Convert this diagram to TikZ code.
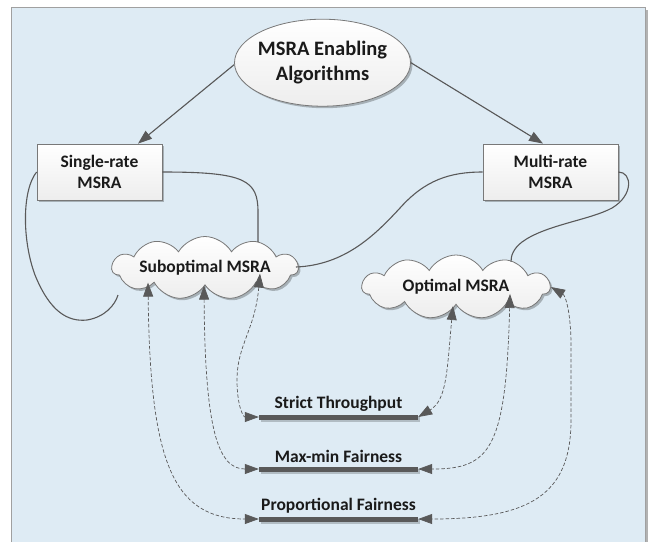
\documentclass[tikz,border=0pt]{standalone}
\usepackage{fontspec}
\setmainfont{Carlito}
\usetikzlibrary{shapes.geometric,shapes.symbols,arrows.meta,shadows}
\definecolor{bgblue}{RGB}{222,235,244}
\definecolor{linegray}{RGB}{89,89,89}
\definecolor{bordergray}{RGB}{120,120,120}
\definecolor{framegray}{RGB}{160,160,160}
\definecolor{txtcol}{RGB}{26,26,26}

\begin{document}
\begin{tikzpicture}[x=1pt,y=-1pt,
  >={Triangle[length=14pt,width=10pt]},
  shapebox/.style={draw=bordergray, line width=0.8pt, top color=white, bottom color=black!7,
    drop shadow={shadow xshift=2pt, shadow yshift=-2pt, fill=black, opacity=0.25}},
  boxnode/.style={shapebox, rectangle, minimum height=56pt, inner sep=0pt, align=center,
    font=\bfseries\fontsize{17.5}{21}\selectfont, text=txtcol},
  ellnode/.style={shapebox, ellipse, minimum width=176pt, minimum height=87pt, inner sep=0pt},
  cloudnode/.style={shapebox, cloud, cloud puffs=11, cloud puff arc=120, cloud ignores aspect,
    inner sep=0pt},
  labeltext/.style={font=\bfseries\fontsize{17.5}{21}\selectfont, text=txtcol, align=center, inner sep=0pt},
  titletext/.style={font=\bfseries\fontsize{20.5}{25}\selectfont, text=txtcol, align=center, inner sep=0pt},
  barnode/.style={rectangle, fill=linegray, minimum width=159pt, minimum height=5pt, inner sep=0pt,
    drop shadow={shadow xshift=1.5pt, shadow yshift=-2.5pt, fill=black, opacity=0.2}},
  solidconn/.style={draw=linegray, line width=1.1pt},
  arrowconn/.style={draw=linegray, line width=1.1pt, ->, fill=linegray},
  dashconn/.style={draw=linegray, line width=0.7pt, dash pattern=on 3.5pt off 2pt, <->}
]
\useasboundingbox (0,0) rectangle (650,542);

% frame
\fill[black!30] (645,10) rectangle (648,542);
\fill[bgblue] (11.5,7) rectangle (645,542);
\draw[framegray, line width=0.9pt] (11.5,542) -- (11.5,7) -- (645,7) -- (645,542);

% main nodes
\node[ellnode] (ell) at (322.5,62.7) {};
\node[titletext] (elltext) at (ell.center) {MSRA Enabling\\Algorithms};
\node[boxnode, minimum width=125pt] (sr) at (99.5,172) {Single-rate\\MSRA};
\node[boxnode, minimum width=135pt] (mr) at (550.5,172) {Multi-rate\\MSRA};
\node[cloudnode, minimum width=186pt, minimum height=63pt] (sub) at (205,268) {};
\node[labeltext] (subtext) at (sub.center) {Suboptimal MSRA};
\node[cloudnode, minimum width=188pt, minimum height=64pt] (opt) at (456,287) {};
\node[labeltext] (opttext) at (opt.center) {Optimal MSRA};

% objective bars
\node[barnode] (st) at (338.5,417) {};
\node[labeltext] (sttext) at (338.5,404) {Strict Throughput};
\node[barnode] (mm) at (338.5,469) {};
\node[labeltext] (mmtext) at (338.5,456) {Max-min Fairness};
\node[barnode] (pf) at (338.5,519) {};
\node[labeltext] (pftext) at (338.5,506) {Proportional Fairness};

% arrows from the root
\draw[arrowconn] ([yshift=-2pt]ell.west) -- ([xshift=38.5pt]sr.north);
\draw[arrowconn] (ell.east) -- ([xshift=-7.5pt]mr.north);

% solid links between rate classes and algorithm classes
\draw[solidconn] (sr.east) .. controls (245,172) and (258,180) .. (258,212)
  -- ([xshift=53pt,yshift=-6pt]sub.north);
\coordinate (loopend) at (118,295);
\draw[solidconn] (sr.west) .. controls (22,190) and (22,240) .. (35,275)
  .. controls (50,312) and (68,322) .. (87,320)
  .. controls (105,317) and (115,305) .. (loopend);
\draw[solidconn] ([xshift=-3pt,yshift=1pt]sub.east) .. controls (345,265) and (375,235) .. (400,208)
  .. controls (425,180) and (450,172) .. (mr.west);
\draw[solidconn] (mr.east) .. controls (632,172) and (634,195) .. (612,208)
  .. controls (590,220) and (545,225) .. (522,242)
  .. controls (513,249) and (511,256) .. ([xshift=55pt,yshift=-7pt]opt.north);

% dashed links between algorithms and objectives
\draw[dashconn] ([xshift=-57pt,yshift=3pt]sub.south) .. controls (150,460) and (172,519) .. (pf.west);
\draw[dashconn] ([xshift=-1pt]sub.south) .. controls (205,430) and (218,469) .. (mm.west);
\draw[dashconn] ([xshift=55pt,yshift=12pt]sub.south) .. controls (255,330) and (237,345) .. (237,380)
  .. controls (237,405) and (243,417) .. (st.west);
\draw[dashconn] ([xshift=-3pt,yshift=-1pt]opt.south) .. controls (447,370) and (447,400) .. (st.east);
\draw[dashconn] ([xshift=54pt,yshift=11pt]opt.south) .. controls (506,450) and (490,469) .. (mm.east);
\draw[dashconn] (opt.east) .. controls (566,296) and (571,315) .. (571,345) -- (571,420)
  .. controls (571,495) and (530,519) .. (pf.east);
\end{tikzpicture}
\end{document}
